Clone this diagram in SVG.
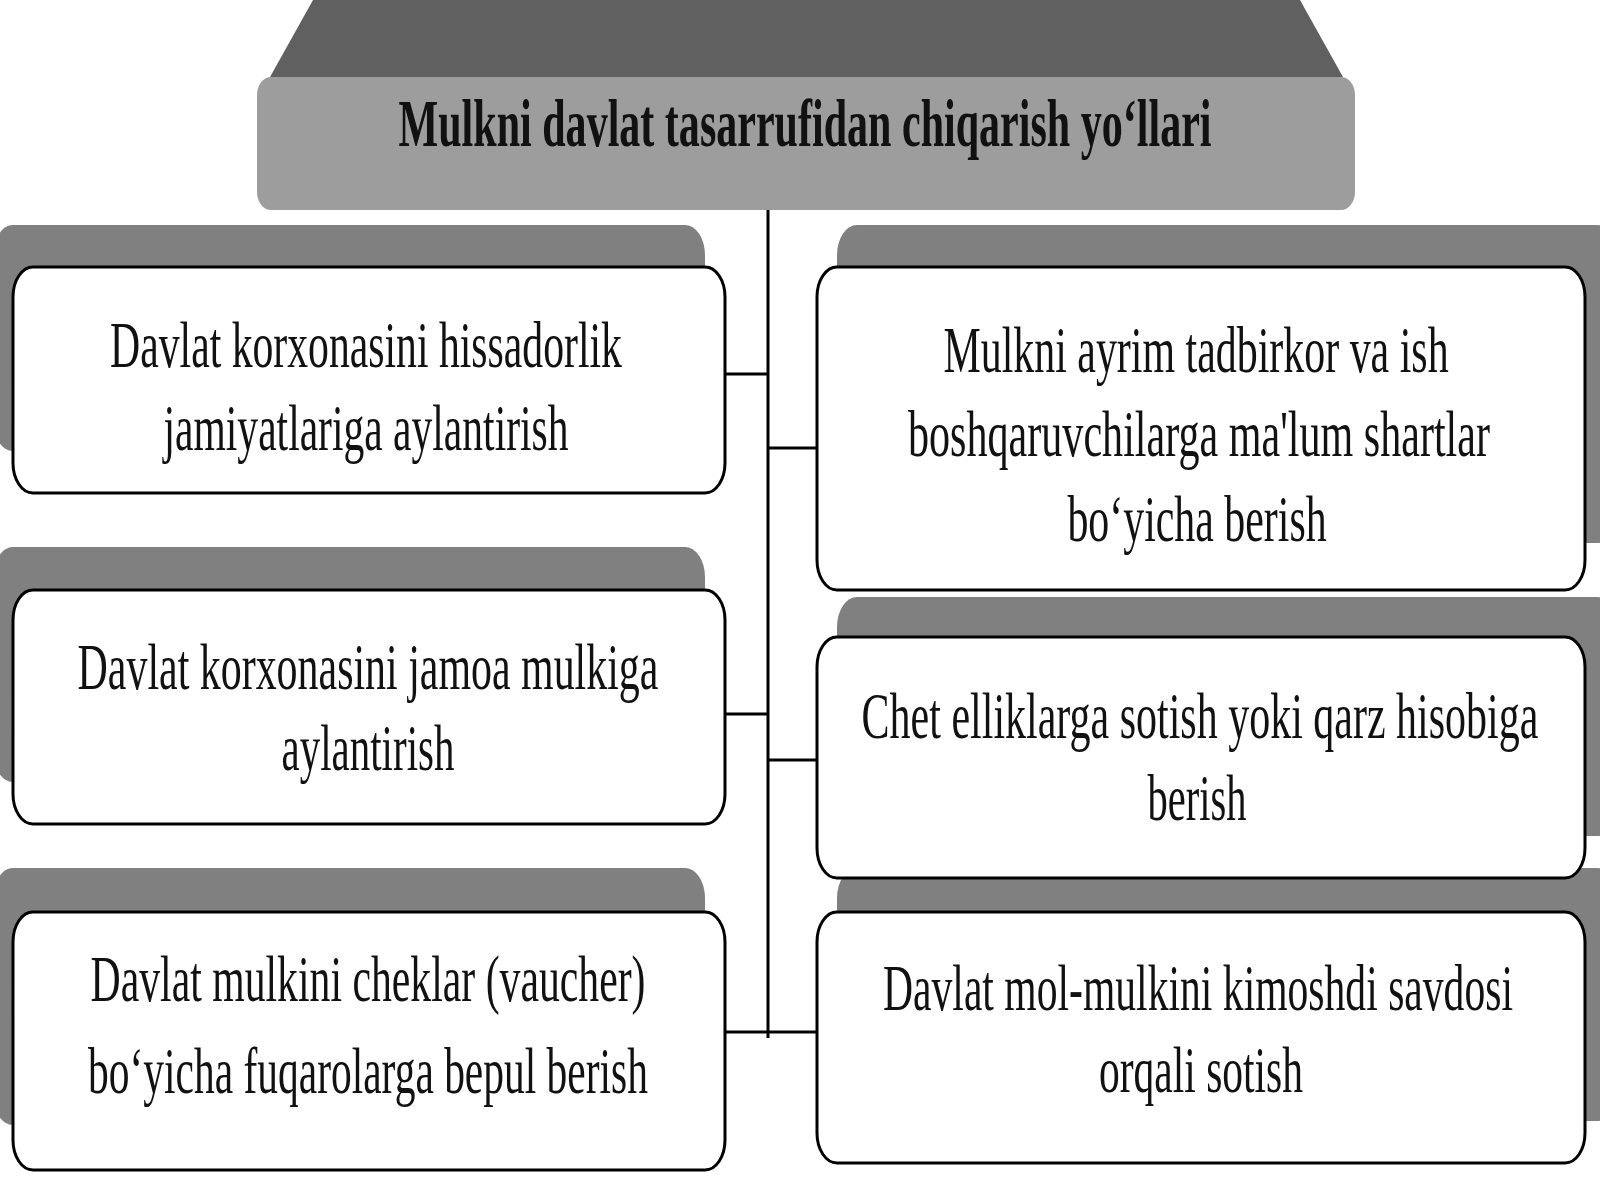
<svg xmlns="http://www.w3.org/2000/svg" width="1600" height="1200" viewBox="0 0 1600 1200">
<style>
.shadow{fill:#808080}
.box{fill:#ffffff;stroke:#000000;stroke-width:3}
.t{font-family:"Liberation Serif","Times New Roman",serif;font-size:66px;fill:#111111;text-anchor:middle}
.title{font-family:"Liberation Serif","Times New Roman",serif;font-size:68px;font-weight:bold;fill:#111111;text-anchor:middle}
.conn{stroke:#000000;stroke-width:3;fill:none}
</style>
<rect width="1600" height="1200" fill="#ffffff"/>

<g id="title">
<polygon points="313,0 1300,0 1343,77 270,77" fill="#606060"/>
<rect x="257" y="77" width="1098" height="133" rx="14" ry="18" fill="#9d9d9d"/>
<text class="title" transform="translate(805,146) scale(0.6,1)" x="0" y="0" textLength="1355" lengthAdjust="spacingAndGlyphs">Mulkni davlat tasarrufidan chiqarish yo‘llari</text>
</g>

<g id="connectors">
<line class="conn" x1="768" y1="210" x2="768" y2="1038"/>
<line class="conn" x1="725" y1="374" x2="768" y2="374"/>
<line class="conn" x1="725" y1="714" x2="768" y2="714"/>
<line class="conn" x1="768" y1="448" x2="817" y2="448"/>
<line class="conn" x1="768" y1="760" x2="817" y2="760"/>
<line class="conn" x1="725" y1="1032" x2="817" y2="1032"/>
</g>

<g id="left3">
<rect class="shadow" x="-7" y="868" width="712" height="257" rx="20" ry="30"/>
<rect class="box" x="13" y="912" width="712" height="258" rx="20" ry="30"/>
<text class="t" transform="translate(368,1001) scale(0.6,1)" x="0" y="0" textLength="925" lengthAdjust="spacingAndGlyphs">Davlat mulkini cheklar (vaucher)</text>
<text class="t" transform="translate(368,1093) scale(0.6,1)" x="0" y="0" textLength="933" lengthAdjust="spacingAndGlyphs">bo‘yicha fuqarolarga bepul berish</text>
</g>

<g id="left2">
<rect class="shadow" x="-7" y="547" width="712" height="235" rx="20" ry="30"/>
<rect class="box" x="13" y="590" width="712" height="234" rx="20" ry="30"/>
<text class="t" transform="translate(368,689) scale(0.6,1)" x="0" y="0" textLength="968" lengthAdjust="spacingAndGlyphs">Davlat korxonasini jamoa mulkiga</text>
<text class="t" transform="translate(368,770) scale(0.6,1)" x="0" y="0" textLength="288" lengthAdjust="spacingAndGlyphs">aylantirish</text>
</g>

<g id="left1">
<rect class="shadow" x="-7" y="225" width="712" height="226" rx="20" ry="30"/>
<rect class="box" x="13" y="267" width="712" height="226" rx="20" ry="30"/>
<text class="t" transform="translate(366,367) scale(0.6,1)" x="0" y="0" textLength="853" lengthAdjust="spacingAndGlyphs">Davlat korxonasini hissadorlik</text>
<text class="t" transform="translate(366,450) scale(0.6,1)" x="0" y="0" textLength="675" lengthAdjust="spacingAndGlyphs">jamiyatlariga aylantirish</text>
</g>

<g id="right3">
<rect class="shadow" x="837" y="868" width="780" height="253" rx="20" ry="30"/>
<rect class="box" x="817" y="912" width="768" height="251" rx="20" ry="30"/>
<text class="t" transform="translate(1198,1010) scale(0.6,1)" x="0" y="0" textLength="1050" lengthAdjust="spacingAndGlyphs">Davlat mol-mulkini kimoshdi savdosi</text>
<text class="t" transform="translate(1201,1092) scale(0.6,1)" x="0" y="0" textLength="340" lengthAdjust="spacingAndGlyphs">orqali sotish</text>
</g>

<g id="right2">
<rect class="shadow" x="837" y="597" width="780" height="239" rx="20" ry="30"/>
<rect class="box" x="817" y="637" width="768" height="241" rx="20" ry="30"/>
<text class="t" transform="translate(1200,738) scale(0.6,1)" x="0" y="0" textLength="1128" lengthAdjust="spacingAndGlyphs">Chet elliklarga sotish yoki qarz hisobiga</text>
<text class="t" transform="translate(1197,820) scale(0.6,1)" x="0" y="0" textLength="165" lengthAdjust="spacingAndGlyphs">berish</text>
</g>

<g id="right1">
<rect class="shadow" x="837" y="225" width="780" height="318" rx="20" ry="30"/>
<rect class="box" x="817" y="267" width="768" height="323" rx="20" ry="30"/>
<text class="t" transform="translate(1196,372) scale(0.6,1)" x="0" y="0" textLength="842" lengthAdjust="spacingAndGlyphs">Mulkni ayrim tadbirkor va ish</text>
<text class="t" transform="translate(1199,456) scale(0.6,1)" x="0" y="0" textLength="970" lengthAdjust="spacingAndGlyphs">boshqaruvchilarga ma'lum shartlar</text>
<text class="t" transform="translate(1197,541) scale(0.6,1)" x="0" y="0" textLength="432" lengthAdjust="spacingAndGlyphs">bo‘yicha berish</text>
</g>
</svg>
